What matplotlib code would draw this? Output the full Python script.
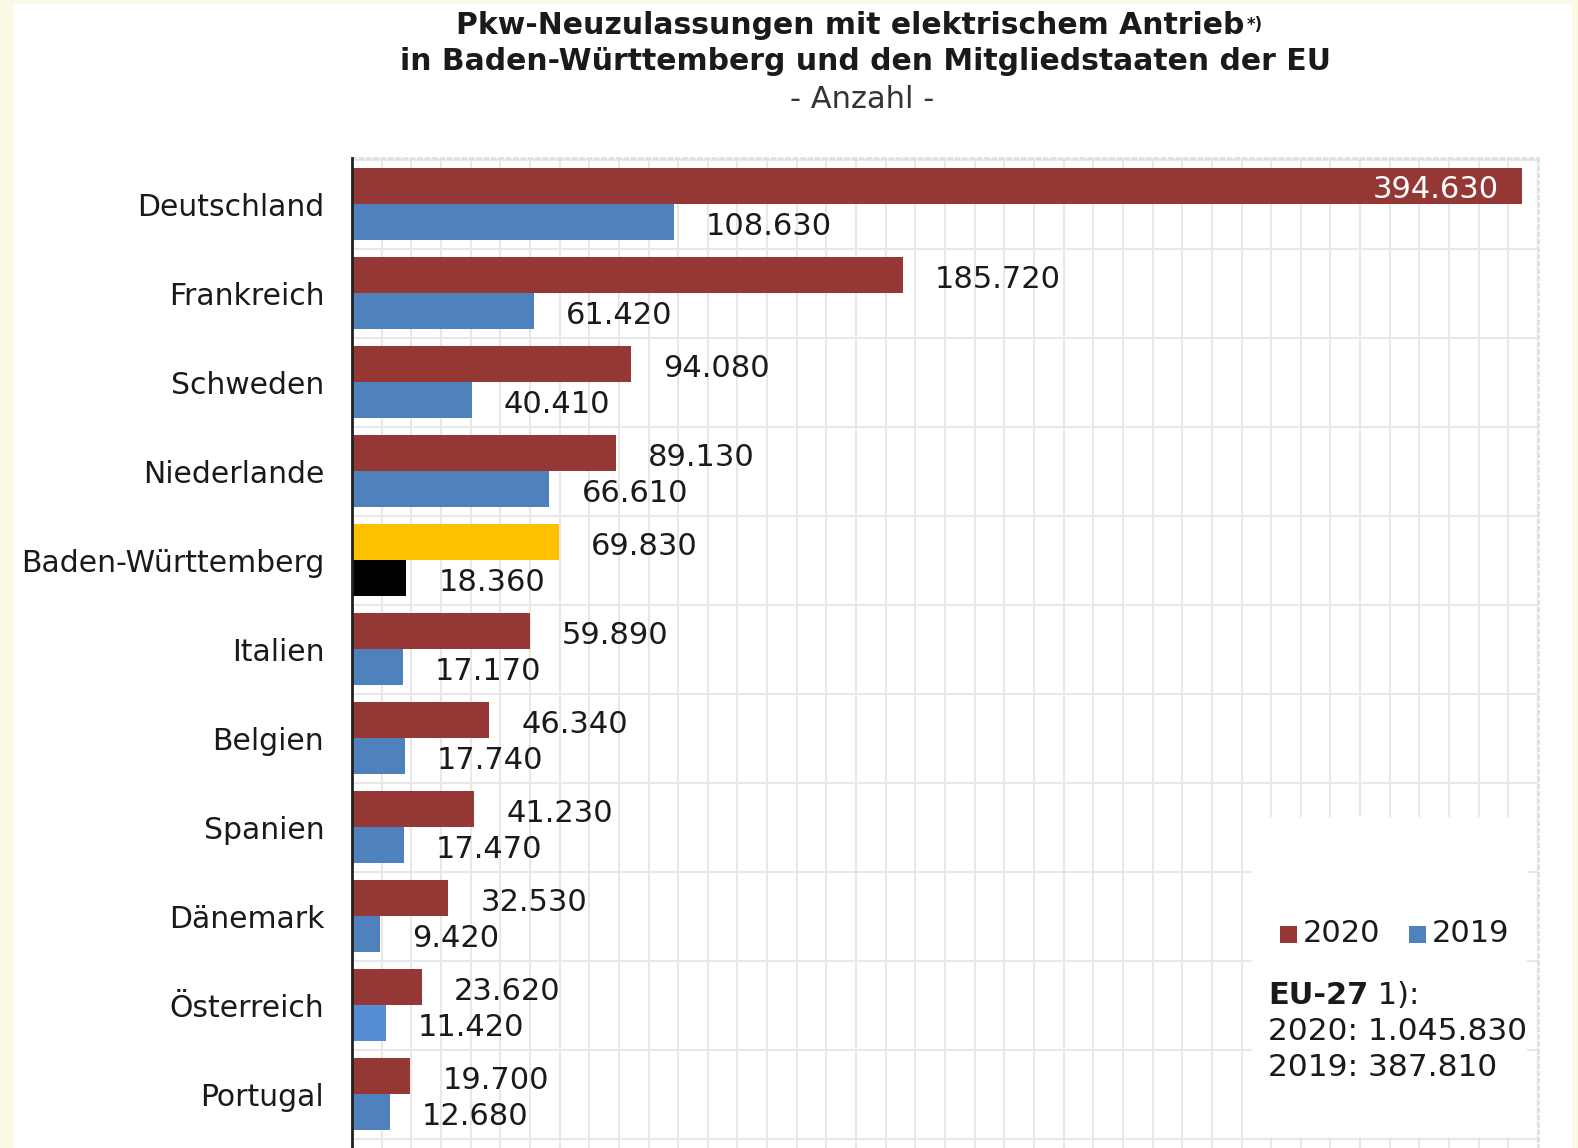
import numpy as np
import matplotlib
matplotlib.use("Agg")
import matplotlib.pyplot as plt
from matplotlib.patches import Rectangle

# data
laender = ["Deutschland", "Frankreich", "Schweden", "Niederlande", "Baden-Württemberg",
           "Italien", "Belgien", "Spanien", "Dänemark", "Österreich", "Portugal"]
werte_2020 = [394630, 185720, 94080, 89130, 69830, 59890, 46340, 41230, 32530, 23620, 19700]
werte_2019 = [108630, 61420, 40410, 66610, 18360, 17170, 17740, 17470, 9420, 11420, 12680]
eu_2020 = "1.045.830"
eu_2019 = "387.810"

W, H = 1578, 1148
RED, BLUE, BLUE_LIGHT, YELLOW = "#953735", "#4F81BD", "#558ED5", "#FFC000"
TXT = "#1a1a1a"

def fx(x):
    return x / W

def fy(y):
    return 1 - y / H

def de(v):
    return f"{v:,}".replace(",", ".")

fig = plt.figure(figsize=(W / 100, H / 100), dpi=100, facecolor="#FCF9E6")
fig.add_artist(Rectangle((fx(14), 0), fx(1572 - 14), fy(4), transform=fig.transFigure,
                         facecolor="white", edgecolor="none", zorder=-10))

ax = fig.add_axes([fx(352), 0, fx(1538 - 352), fy(158)])
ax.set_facecolor("none")
n = len(laender)
y = np.arange(n)
ax.set_xlim(0, 400000)
ax.set_ylim((H - 204) / 89, (158 - 204) / 89)

# grid
ax.set_xticks(np.arange(0, 400001, 10000))
ax.set_yticks(y)
ax.set_yticks(np.arange(n + 1) - 0.5, minor=True)
ax.set_axisbelow(True)
ax.grid(axis="x", which="major", color="#e8e8e8", lw=1.5)
ax.grid(axis="y", which="minor", color="#e8e8e8", lw=1.5)
ax.tick_params(axis="x", length=0, labelbottom=False)
ax.tick_params(axis="y", which="both", length=0, pad=20)
ax.set_yticklabels(laender, fontsize=21.5, color=TXT)

for s in ["top", "right"]:
    ax.spines[s].set_color("#e0e0e0")
    ax.spines[s].set_linestyle(":")
    ax.spines[s].set_linewidth(2)
ax.spines["bottom"].set_visible(False)
ax.spines["left"].set_color("#222222")
ax.spines["left"].set_linewidth(2)
ax.spines["left"].set_zorder(5)

c20 = [RED] * n
c19 = [BLUE] * n
bw = laender.index("Baden-Württemberg")
c20[bw], c19[bw] = YELLOW, "black"
c19[laender.index("Österreich")] = BLUE_LIGHT

# white box behind the legend text
ax.add_patch(Rectangle((fx(1252), fy(1137)), fx(1527 - 1252), fy(817) - fy(1137),
                       transform=fig.transFigure, facecolor="white", edgecolor="none", zorder=1))

b20 = ax.barh(y - 0.2, werte_2020, height=0.4, color=c20, zorder=2)
b19 = ax.barh(y + 0.2, werte_2019, height=0.4, color=c19, zorder=2)

for i in range(n):
    v = werte_2020[i]
    if v > 300000:
        ax.annotate(de(v), (v, i - 0.2), xytext=(-23, -3), textcoords="offset pixels",
                    ha="right", va="center", fontsize=22, color="white", zorder=4)
    else:
        ax.annotate(de(v), (v, i - 0.2), xytext=(32, -4), textcoords="offset pixels",
                    ha="left", va="center", fontsize=22, color=TXT, zorder=4)
    v = werte_2019[i]
    ax.annotate(de(v), (v, i + 0.2), xytext=(32, -5), textcoords="offset pixels",
                ha="left", va="center", fontsize=22, color=TXT, zorder=4)

# title
t1 = fig.text(fx(850), fy(25), "Pkw-Neuzulassungen mit elektrischem Antrieb", ha="center", va="center",
              fontsize=21.5, fontweight="bold", color=TXT)
fig.text(fx(866), fy(62), "in Baden-Württemberg und den Mitgliedstaaten der EU", ha="center",
         va="center", fontsize=21.5, fontweight="bold", color=TXT)
fig.text(fx(862), fy(99), "- Anzahl -", ha="center", va="center", fontsize=22, color="#333333")
r = fig.canvas.get_renderer()
bb = t1.get_window_extent(r)
fig.text((bb.x1 + 3) / W, (bb.y1 - 6) / H, "*)", ha="left", va="top", fontsize=12,
         fontweight="bold", color=TXT)

# legend
fig.add_artist(Rectangle((fx(1280), fy(943)), 17 / W, 17 / H, transform=fig.transFigure,
                         facecolor=RED, edgecolor="none"))
fig.text(fx(1303), fy(934), "2020", ha="left", va="center", fontsize=22, color=TXT)
fig.add_artist(Rectangle((fx(1409), fy(943)), 17 / W, 17 / H, transform=fig.transFigure,
                         facecolor=BLUE, edgecolor="none"))
fig.text(fx(1432), fy(934), "2019", ha="left", va="center", fontsize=22, color=TXT)

eu = fig.text(fx(1268), fy(995), "EU-27", ha="left", va="center", fontsize=22,
              fontweight="bold", color=TXT)
bb = eu.get_window_extent(r)
fig.text(bb.x1 / W, fy(995), " 1):", ha="left", va="center", fontsize=22, color=TXT)
fig.text(fx(1268), fy(1032), "2020: " + eu_2020, ha="left", va="center", fontsize=22.5, color=TXT)
fig.text(fx(1268), fy(1068), "2019: " + eu_2019, ha="left", va="center", fontsize=22.5, color=TXT)

fig.savefig("out.png", dpi=100, facecolor=fig.get_facecolor())
